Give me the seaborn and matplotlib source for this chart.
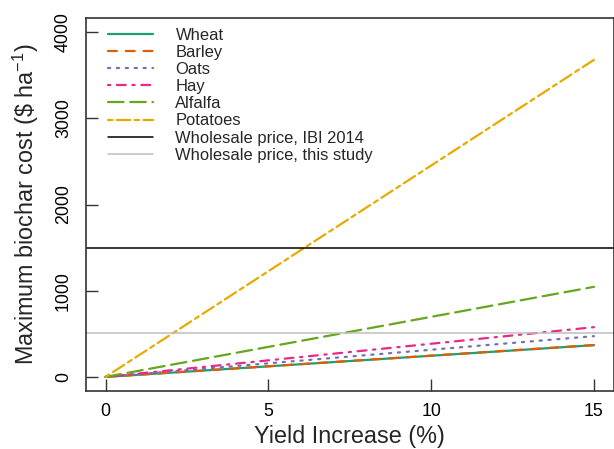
import matplotlib
matplotlib.use("Agg")
import matplotlib.pyplot as plt
import seaborn as sns
import pandas as pd

# Yield increase (%) at the start and end of each line
yield_increase = [0, 15]

# Maximum biochar cost ($/ha) for each crop
wheat = [0, 368]
barley = [0, 370]
oats = [0, 473]
hay = [0, 577]
alfalfa = [0, 1045]
potatoes = [0, 3678]

# Wholesale biochar prices ($/ha)
price_ibi_2014 = 1495
price_this_study = 510

crops = ["Wheat", "Barley", "Oats", "Hay", "Alfalfa", "Potatoes"]
crop_values = [wheat, barley, oats, hay, alfalfa, potatoes]
crop_colors = ["#1B9E77", "#D95F02", "#7570B3", "#E7298A", "#66A61E", "#E6AB02"]
crop_dashes = [None, (4, 4), (1, 3), (1, 3, 4, 3), (7, 3), (2, 2, 6, 2)]

sns.set_theme(style="white")
plt.rcParams["font.family"] = ["Liberation Sans", "DejaVu Sans"]
plt.rcParams["mathtext.fontset"] = "custom"
plt.rcParams["mathtext.rm"] = "Liberation Sans"
plt.rcParams["mathtext.it"] = "Liberation Sans:italic"

fig = plt.figure(figsize=(6.14, 4.49), dpi=100)
ax = fig.add_axes([86 / 614, 1 - 390.7 / 449, 527.5 / 614, 372.4 / 449])

lw = 1.6
for name, vals, col, dash in zip(crops, crop_values, crop_colors, crop_dashes):
    df = pd.DataFrame({"x": yield_increase, "y": vals})
    if dash is None:
        sns.lineplot(data=df, x="x", y="y", ax=ax, color=col, lw=lw,
                     label=name, solid_capstyle="round")
    else:
        sns.lineplot(data=df, x="x", y="y", ax=ax, color=col, lw=lw,
                     label=name, linestyle=(0, dash), dash_capstyle="round")

ax.axhline(price_ibi_2014, color="black", lw=1.1,
           label="Wholesale price, IBI 2014")
ax.axhline(price_this_study, color="#BEBEBE", lw=1.1,
           label="Wholesale price, this study")

ax.set_xlim(-0.6, 15.6)
ax.set_ylim(-160, 4160)
ax.set_xticks([0, 5, 10, 15])
ax.set_yticks([0, 1000, 2000, 3000, 4000])
ax.tick_params(axis="both", direction="in", length=8.9, width=1.0,
               color="#333333", labelsize=12.8, labelcolor="black",
               bottom=True, left=True, top=False, right=False)
ax.tick_params(axis="x", pad=9)
ax.tick_params(axis="y", pad=10)
for lab in ax.get_yticklabels():
    lab.set_rotation(90)
    lab.set_va("center")

for sp in ax.spines.values():
    sp.set_visible(True)
    sp.set_color("#333333")
    sp.set_linewidth(1.2)

ax.set_xlabel("Yield Increase (%)", fontsize=16.8)
ax.set_ylabel(r"Maximum biochar cost (\$ ha$^{-1}$)", fontsize=16.8)
ax.xaxis.set_label_coords(0.5, -0.092)
ax.yaxis.set_label_coords(-0.085, 0.5)

ax.legend(loc="upper left", bbox_to_anchor=(0.0417, 0.975), frameon=False,
          fontsize=11.9, borderpad=0, borderaxespad=0, labelspacing=0.13,
          handlelength=2.75, handletextpad=1.33)

fig.savefig("out.png", dpi=100)
